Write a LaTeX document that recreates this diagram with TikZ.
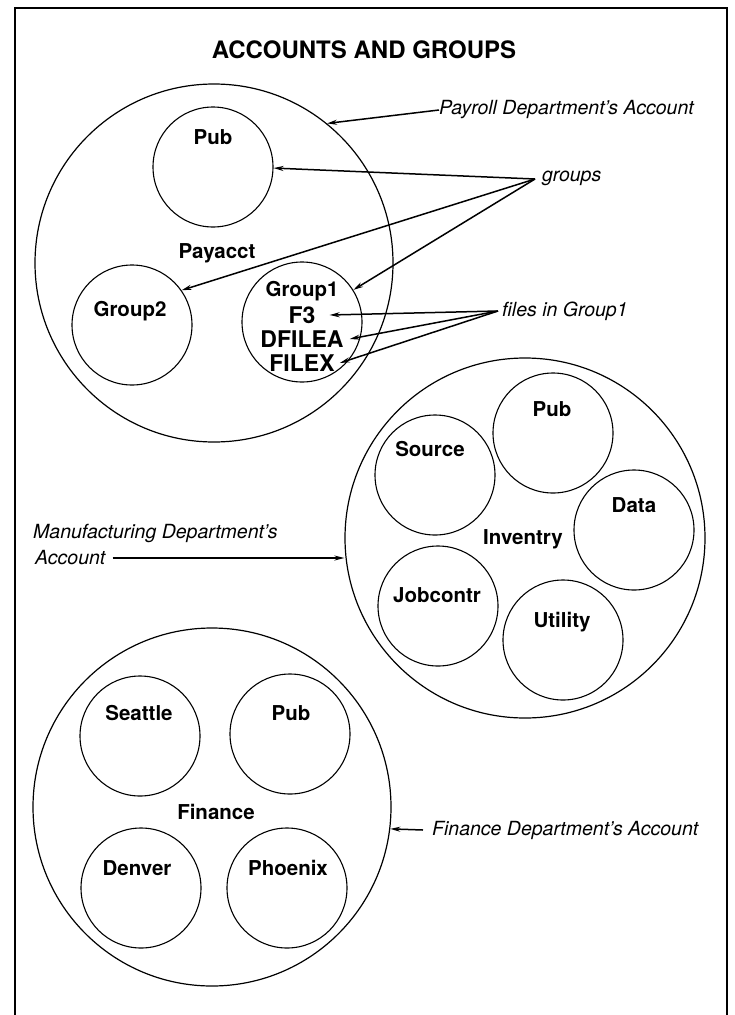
\documentclass[tikz,border=0pt]{standalone}
\usepackage{fontspec}
\setmainfont{TeX Gyre Heros}
\usetikzlibrary{arrows.meta}
\tikzset{
  acct/.style={circle,draw,line width=1.2pt,minimum size=358pt,inner sep=0pt},
  grp/.style={circle,draw,line width=1.1pt,minimum size=120pt,inner sep=0pt},
  lbl/.style={font=\fontsize{20.5}{22}\selectfont\bfseries,inner sep=0pt},
  flbl/.style={font=\fontsize{23}{25}\selectfont\bfseries,inner sep=0pt},
  note/.style={font=\fontsize{19.5}{23}\selectfont\itshape,inner sep=0pt,anchor=west},
  ptr/.style={line width=1.5pt,-{Stealth[length=10pt,width=5pt]}}
}
\begin{document}
\begin{tikzpicture}[x=1pt,y=-1pt]
  \path[use as bounding box,clip] (0,0) rectangle (734,1015);
  \draw[line width=1.4pt] (15,8) rectangle (727,1040);
  \node[font=\fontsize{24}{28}\selectfont\bfseries] (title) at (364,50) {ACCOUNTS AND GROUPS};

  \node[acct] (payacct) at (214,263) {};
  \node[grp] (pubpay) at (213,167) {};
  \node[grp] (grptwo) at (132,325) {};
  \node[grp] (grpone) at (302,322) {};
  \node[lbl] at (217,253) {Payacct};
  \node[lbl] at (213,137) {Pub};
  \node[lbl] at (130,311) {Group2};
  \node[lbl] (grponelbl) at (302,291) {Group1};
  \node[flbl] (fthree) at (302,315) {F3};
  \node[flbl] (dfilea) at (302,339) {DFILEA};
  \node[flbl] (filex) at (302,363) {FILEX};

  \node[acct,minimum size=360pt] (invacct) at (525,538) {};
  \node[grp] (pubinv) at (553,433) {};
  \node[grp] (source) at (435,475) {};
  \node[grp] (data) at (634,530) {};
  \node[grp] (jobcontr) at (438,606) {};
  \node[grp] (utility) at (563,640) {};
  \node[lbl] at (523,539) {Inventry};
  \node[lbl] at (552,409) {Pub};
  \node[lbl] at (430,449) {Source};
  \node[lbl] at (634,505) {Data};
  \node[lbl] at (437,595) {Jobcontr};
  \node[lbl] at (562,622) {Utility};

  \node[acct] (finacct) at (212,807) {};
  \node[grp] (seattle) at (140,736) {};
  \node[grp] (pubfin) at (290,734) {};
  \node[grp] (denver) at (141,888) {};
  \node[grp] (phoenix) at (287,888) {};
  \node[lbl] at (216,812) {Finance};
  \node[lbl] at (139,713) {Seattle};
  \node[lbl] at (291,713) {Pub};
  \node[lbl] at (137,868) {Denver};
  \node[lbl] at (288,868) {Phoenix};

  \node[note] (paynote) at (439,110) {Payroll Department's Account};
  \node[note] (grpnote) at (542,178) {groups};
  \node[note] (filenote) at (502,311) {files in Group1};
  \node[note] (mfgnote) at (33,533) {Manufacturing Department's};
  \node[note] (mfgacct) at (35,558) {Account};
  \node[note] (finnote) at (432,830) {Finance Department's Account};

  \coordinate (grphub) at (535,179);
  \coordinate (filehub) at (498,311);
  \begin{scope}[ptr]
    \draw (paynote.west) -- (payacct.51);
    \draw (grphub) -- (pubpay.-1);
    \draw (grphub) -- (grptwo.35);
    \draw (grphub) -- (grpone.32);
    \draw (filehub) -- ([xshift=14pt]fthree.east);
    \draw (filehub) -- ([xshift=6pt]dfilea.east);
    \draw (filehub) -- ([xshift=5pt]filex.east);
    \draw ([xshift=7pt]mfgacct.east) -- (invacct.west |- mfgacct.east);
    \draw ([xshift=-9pt]finnote.west) -- (finacct.-7);
  \end{scope}
\end{tikzpicture}
\end{document}
